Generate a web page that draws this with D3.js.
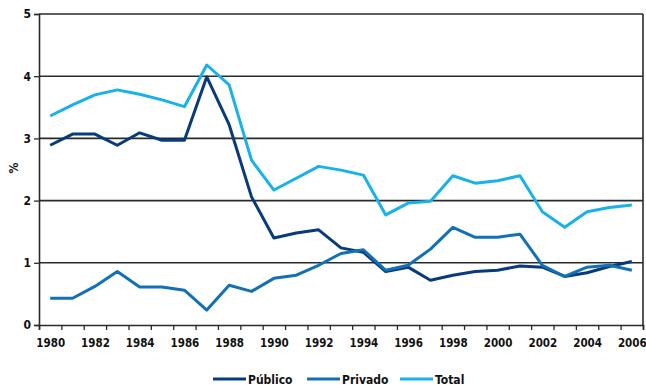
<!DOCTYPE html>
<html>
<head>
<meta charset="utf-8">
<script src="https://cdn.jsdelivr.net/npm/d3@7"></script>
<style>
  html, body { margin: 0; padding: 0; background: #fff; }
  svg { display: block; }
  text { font-family: "DejaVu Sans Condensed", "DejaVu Sans", sans-serif; font-weight: bold; fill: #111; }
</style>
</head>
<body>
<svg id="chart" width="646" height="385"></svg>
<script>
// Years on the category axis
const years = d3.range(1980, 2007);
const yTicks = [0, 1, 2, 3, 4, 5];
const xLabelYears = d3.range(1980, 2007, 2);

// Series values (%)
const publico = [2.89, 3.07, 3.07, 2.89, 3.09, 2.97, 2.97, 3.99, 3.22, 2.06,
                 1.40, 1.48, 1.53, 1.24, 1.17, 0.86, 0.93, 0.72, 0.80, 0.86,
                 0.88, 0.95, 0.93, 0.78, 0.84, 0.94, 1.02];
const privado = [0.43, 0.43, 0.62, 0.86, 0.61, 0.61, 0.56, 0.24, 0.64, 0.54,
                 0.75, 0.80, 0.96, 1.15, 1.21, 0.88, 0.96, 1.22, 1.57, 1.41,
                 1.41, 1.46, 0.96, 0.78, 0.93, 0.96, 0.88];
const total   = [3.36, 3.54, 3.70, 3.78, 3.71, 3.62, 3.51, 4.18, 3.86, 2.65,
                 2.17, 2.36, 2.55, 2.49, 2.41, 1.77, 1.96, 1.99, 2.40, 2.28,
                 2.32, 2.40, 1.82, 1.57, 1.82, 1.89, 1.93];

const seriesNames = ["Público", "Privado", "Total"];
const seriesColors = ["#073b7b", "#1270b6", "#17b2ea"];
const seriesValues = [publico, privado, total];

const svg = d3.select("#chart");
const plotLeft = 39, plotRight = 643, plotTop = 14, plotBottom = 325;

const x = d3.scaleLinear().domain([1979.5, 2006.5]).range([plotLeft, plotRight]);
const y = d3.scaleLinear().domain([0, 5]).range([plotBottom, plotTop]);

// Horizontal gridlines
svg.append("g")
  .selectAll("line")
  .data(yTicks.filter(d => d > 0))
  .join("line")
  .attr("x1", plotLeft).attr("x2", plotRight)
  .attr("y1", d => y(d)).attr("y2", d => y(d))
  .attr("stroke", "#2a2a2a").attr("stroke-width", 1.6);

// Right border
svg.append("line")
  .attr("x1", plotRight).attr("x2", plotRight).attr("y1", plotTop).attr("y2", plotBottom)
  .attr("stroke", "#2a2a2a").attr("stroke-width", 1.6);

// Y axis
const yAxis = svg.append("g")
  .attr("transform", `translate(${plotLeft},0)`)
  .call(d3.axisLeft(y).tickValues(yTicks).tickSize(5).tickPadding(3).tickFormat(d3.format("d")));
yAxis.select(".domain").attr("stroke", "#2a2a2a").attr("stroke-width", 1.6);
yAxis.selectAll(".tick line").attr("stroke", "#2a2a2a").attr("stroke-width", 1.3);
yAxis.selectAll("text").style("font-size", "12px").attr("fill", "#111");

// X axis: ticks on category boundaries
const boundaries = d3.range(1979.5, 2007, 1);
const xAxis = svg.append("g")
  .attr("transform", `translate(0,${plotBottom})`)
  .call(d3.axisBottom(x).tickValues(boundaries).tickSize(5).tickFormat(""));
xAxis.select(".domain").attr("stroke", "#2a2a2a").attr("stroke-width", 1.6);
xAxis.selectAll(".tick line").attr("stroke", "#2a2a2a").attr("stroke-width", 1.3);

// X labels at category centers
const xLabels = svg.append("g")
  .attr("transform", `translate(0,${plotBottom})`)
  .call(d3.axisBottom(x).tickValues(xLabelYears).tickSize(0).tickPadding(14).tickFormat(d3.format("d")));
xLabels.select(".domain").remove();
xLabels.selectAll("text").style("font-size", "11.5px").attr("fill", "#111");

// Y axis title
svg.append("text")
  .attr("transform", "translate(18,168) rotate(-90)")
  .attr("text-anchor", "middle")
  .style("font-size", "12px")
  .text("%");

// Lines
const line = d3.line()
  .x((d, i) => x(years[i]))
  .y(d => y(d));

seriesValues.forEach((vals, k) => {
  svg.append("path")
    .datum(vals)
    .attr("fill", "none")
    .attr("stroke", seriesColors[k])
    .attr("stroke-width", 3)
    .attr("stroke-linejoin", "round")
    .attr("d", line);
});

// Legend
const legendX = [213, 307, 400];
const legend = svg.append("g");
seriesNames.forEach((name, k) => {
  const g = legend.append("g").attr("transform", `translate(${legendX[k]},379)`);
  g.append("line").attr("x1", 0).attr("x2", 33).attr("y1", 0).attr("y2", 0)
    .attr("stroke", seriesColors[k]).attr("stroke-width", 3);
  g.append("text").attr("x", 35).attr("y", 4.5)
    .style("font-size", "12px").text(name);
});
</script>
</body>
</html>
